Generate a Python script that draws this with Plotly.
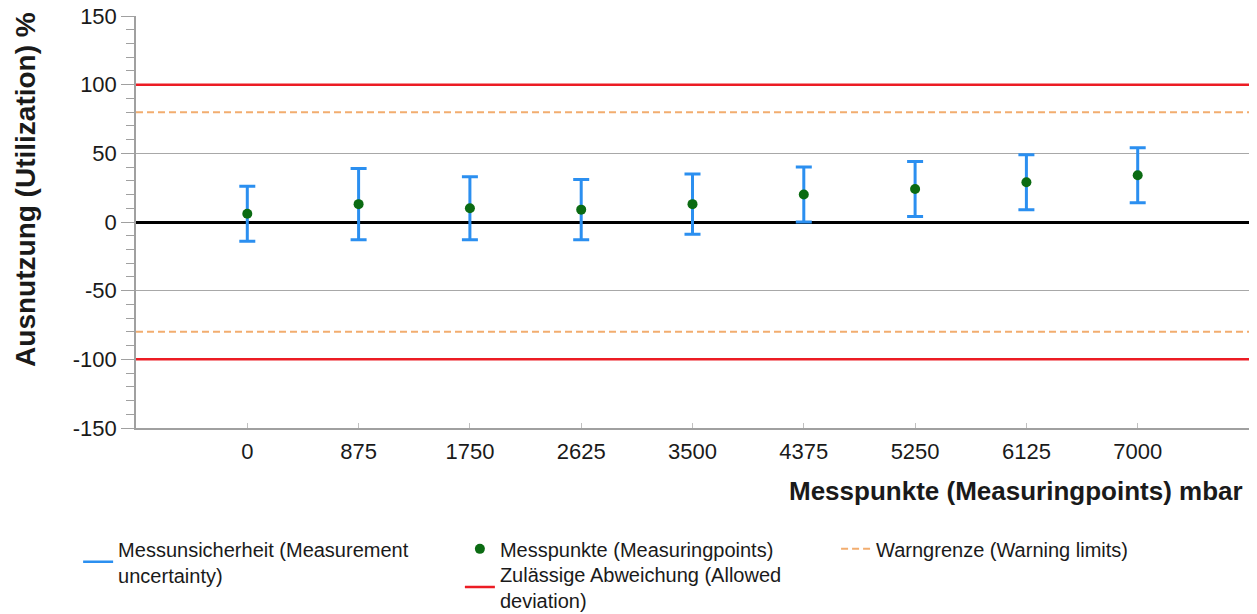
import plotly.graph_objects as go

# ---- data ----
x_points = [0, 875, 1750, 2625, 3500, 4375, 5250, 6125, 7000]
x_ticklabels = ["0", "875", "1750", "2625", "3500", "4375", "5250", "6125", "7000"]
y_tickvals = [-150, -100, -50, 0, 50, 100, 150]
y_ticklabels = ["-150", "-100", "-50", "0", "50", "100", "150"]
utilization = [6, 13, 10, 9, 13, 20, 24, 29, 34]
uncert_upper = [26, 39, 33, 31, 35, 40, 44, 49, 54]
uncert_lower = [-14, -13, -13, -13, -9, 0, 4, 9, 14]
allowed_limit = 100
warning_limit = 80
x_range = [-875, 7875]
y_range = [-150, 150]

err_plus = [u - v for u, v in zip(uncert_upper, utilization)]
err_minus = [v - l for v, l in zip(utilization, uncert_lower)]

FONT = "Liberation Sans, Arial, sans-serif"
TXT = "#1a1a1a"
BLUE = "#2b8ff0"
GREEN = "#0b6b12"
RED = "#ec1c24"
ORANGE = "#f2ad6f"

fig = go.Figure()

# allowed deviation (red)
fig.add_trace(go.Scatter(
    x=[x_range[0], x_range[1], None, x_range[0], x_range[1]],
    y=[allowed_limit, allowed_limit, None, -allowed_limit, -allowed_limit],
    mode="lines", line=dict(color=RED, width=2.5),
    name="Zulässige Abweichung (Allowed<br>deviation)", legend="legend4",
    hoverinfo="skip"))

# warning limits (orange dashed)
fig.add_trace(go.Scatter(
    x=[x_range[0], x_range[1], None, x_range[0], x_range[1]],
    y=[warning_limit, warning_limit, None, -warning_limit, -warning_limit],
    mode="lines", line=dict(color=ORANGE, width=2, dash="7px,4px"),
    name="Warngrenze (Warning limits)", legend="legend3", hoverinfo="skip"))

# uncertainty error bars
fig.add_trace(go.Scatter(
    x=x_points, y=utilization, mode="markers",
    marker=dict(size=1, opacity=0, color=BLUE),
    error_y=dict(type="data", symmetric=False, array=err_plus, arrayminus=err_minus,
                 color=BLUE, thickness=3, width=8),
    showlegend=False, hoverinfo="skip"))
# legend entry for uncertainty
fig.add_trace(go.Scatter(
    x=[None], y=[None], mode="lines", line=dict(color=BLUE, width=2.5),
    name="Messunsicherheit (Measurement<br>uncertainty)", legend="legend"))

# measuring points
fig.add_trace(go.Scatter(
    x=x_points, y=utilization, mode="markers",
    marker=dict(size=10, color=GREEN),
    name="Messpunkte (Measuringpoints)", legend="legend2"))

legend_common = dict(font=dict(family=FONT, size=20, color=TXT),
                     bgcolor="rgba(0,0,0,0)", xanchor="left", yanchor="top",
                     orientation="v", tracegroupgap=0)

fig.update_layout(
    width=1257, height=614,
    margin=dict(l=136, r=8, t=16, b=186, autoexpand=False),
    paper_bgcolor="white", plot_bgcolor="white",
    font=dict(family=FONT, color=TXT),
    legend=dict(x=-0.052, y=-0.246, **legend_common),
    legend2=dict(x=0.291, y=-0.246, **legend_common),
    legend3=dict(x=0.629, y=-0.246, **legend_common),
    legend4=dict(x=0.291, y=-0.3068, **legend_common),
    xaxis=dict(range=x_range, tickmode="array", tickvals=x_points, ticktext=x_ticklabels,
               showgrid=False, zeroline=False, showline=True, linecolor="#a0a0a0", linewidth=1.5,
               ticks="inside", ticklen=5, tickcolor="#c0c0c0",
               tickfont=dict(family=FONT, size=22, color=TXT),
               ticklabelstandoff=3, automargin=False),
    yaxis=dict(range=y_range, tickmode="array", tickvals=y_tickvals, ticktext=y_ticklabels,
               showgrid=True, gridcolor="#a8a8a8", gridwidth=1,
               zeroline=True, zerolinecolor="#000000", zerolinewidth=2.5,
               showline=True, linecolor="#a0a0a0", linewidth=1.5,
               ticks="outside", ticklen=13, tickcolor="#a0a0a0",
               minor=dict(dtick=10, tick0=0, ticks="outside", ticklen=8, tickcolor="#a0a0a0",
                          showgrid=False),
               tickfont=dict(family=FONT, size=22, color=TXT), automargin=False),
    annotations=[
        dict(text="<b>Messpunkte (Measuringpoints) mbar</b>",
             xref="paper", yref="paper", x=0.9964, y=-0.153,
             xanchor="right", yanchor="middle", showarrow=False,
             font=dict(family=FONT, size=26, color=TXT)),
        dict(text="<b>Ausnutzung (Utilization) %</b>", textangle=-90,
             xref="paper", yref="paper", x=-0.0988, y=0.578,
             xanchor="center", yanchor="middle", showarrow=False,
             font=dict(family=FONT, size=28, color=TXT)),
    ],
)

fig.write_html("out.html", config={"displayModeBar": False},
               post_script="document.body.style.margin='0px';document.body.style.padding='0px';")
